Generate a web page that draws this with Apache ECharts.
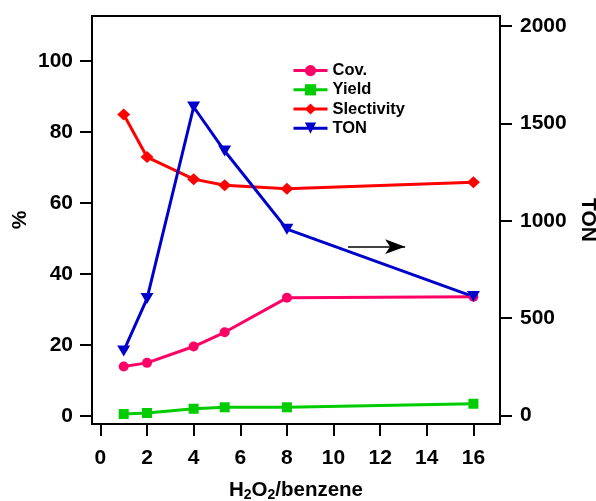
<!DOCTYPE html>
<html>
<head>
<meta charset="utf-8">
<script src="https://cdn.jsdelivr.net/npm/echarts@6/dist/echarts.min.js"></script>
<style>html,body{margin:0;padding:0;background:#fff;}#c{width:596px;height:501px;}</style>
</head>
<body>
<div id="c"></div>
<script>
// ---- data ----
var ratio = [1, 2, 4, 5.33, 8, 16];
var cov = [14.0, 15.0, 19.6, 23.6, 33.3, 33.6];
var yieldV = [0.6, 0.9, 2.1, 2.5, 2.5, 3.5];
var selectivity = [84.9, 72.9, 66.7, 65.0, 64.0, 65.8];
var ton = [332, 601, 1584, 1358, 957, 611];
var xTicks = [0, 2, 4, 6, 8, 10, 12, 14, 16];
var leftTicks = [0, 20, 40, 60, 80, 100];
var rightTicks = [0, 500, 1000, 1500, 2000];
var arrowX = [10.62, 13.07];
var arrowY = 867;

function pairs(xs, ys) { return xs.map(function (x, i) { return [x, ys[i]]; }); }

var FONT = "'Liberation Sans', Arial, sans-serif";
var chart = echarts.init(document.getElementById('c'), null, {renderer: 'canvas'});
var axisCommon = {
  axisLine: {show: true, onZero: false, lineStyle: {color: '#000', width: 2}},
  axisTick: {show: true, inside: false, length: 12, lineStyle: {color: '#000', width: 2}},
  splitLine: {show: false},
  nameMoveOverlap: false,
  nameTextStyle: {color: '#000', fontFamily: FONT, fontWeight: 'bold', fontSize: 21}
};
function labelStyle(margin, vals) {
  return {color: '#000', fontFamily: FONT, fontWeight: 'bold', fontSize: 21, margin: margin, customValues: vals,
    formatter: function (v) { return String(v); }};
}
chart.setOption({
  animation: false,
  grid: {left: 92, right: 96, top: 16, bottom: 77, show: true, borderColor: '#000', borderWidth: 2,
    backgroundColor: 'transparent', containLabel: false, outerBoundsMode: 'none'},
  legend: {
    orient: 'vertical', left: 292, top: 61, padding: 0, itemWidth: 34, itemHeight: 14, itemGap: 0,
    lineStyle: {width: 3},
    textStyle: {color: '#000', fontFamily: FONT, fontWeight: 'bold', fontSize: 16.5, lineHeight: 19.2},
    data: ['Cov.', 'Yield', 'Slectivity', 'TON']
  },
  xAxis: Object.assign({}, axisCommon, {
    type: 'value', min: -0.36, max: 17.14,
    axisTick: Object.assign({}, axisCommon.axisTick, {customValues: xTicks}),
    axisLabel: labelStyle(24, xTicks),
    name: 'H{sub|2}O{sub|2}/benzene', nameLocation: 'middle', nameGap: 54,
    nameTextStyle: {color: '#000', fontFamily: FONT, fontWeight: 'bold', fontSize: 20.5,
      rich: {sub: {fontFamily: FONT, fontWeight: 'bold', fontSize: 14, padding: [10, 0, 0, 0]}}}
  }),
  yAxis: [
    Object.assign({}, axisCommon, {
      type: 'value', position: 'left', min: -2.2, max: 112.6,
      axisTick: Object.assign({}, axisCommon.axisTick, {customValues: leftTicks}),
      axisLabel: labelStyle(19, leftTicks),
      name: '%', nameLocation: 'middle', nameGap: 61, nameRotate: 90
    }),
    Object.assign({}, axisCommon, {
      type: 'value', position: 'right', min: -43, max: 2051,
      axisTick: Object.assign({}, axisCommon.axisTick, {customValues: rightTicks}),
      axisLabel: labelStyle(20, rightTicks),
      name: 'TON', nameLocation: 'middle', nameGap: 77, nameRotate: -90
    })
  ],
  series: [
    {name: 'Cov.', type: 'line', data: pairs(ratio, cov), symbol: 'circle', symbolSize: 10,
     color: '#FF0066', lineStyle: {width: 3}},
    {name: 'Yield', type: 'line', data: pairs(ratio, yieldV), symbol: 'rect', symbolSize: 10,
     color: '#00CC00', lineStyle: {width: 3}},
    {name: 'Slectivity', type: 'line', data: pairs(ratio, selectivity), symbol: 'diamond', symbolSize: [13, 12],
     color: '#FF0000', lineStyle: {width: 3}},
    {name: 'TON', type: 'line', yAxisIndex: 1, data: pairs(ratio, ton), symbol: 'triangle', symbolRotate: 180,
     symbolSize: [13, 11], color: '#0000CC', lineStyle: {width: 3},
     markLine: {silent: true, symbol: ['none', 'arrow'], symbolSize: [11, 20], label: {show: false},
       lineStyle: {color: '#000', width: 1.5, type: 'solid'},
       data: [[{coord: [arrowX[0], arrowY]}, {coord: [arrowX[1], arrowY]}]]}}
  ]
});
</script>
</body>
</html>
